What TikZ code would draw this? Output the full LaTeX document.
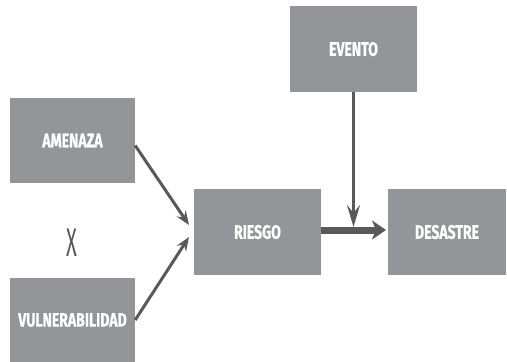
\documentclass[tikz,border=0pt]{standalone}
\usepackage{fontspec}
\setmainfont{Fira Sans}
\newfontfamily\boxfont{Fira Sans}[FakeStretch=0.72, BoldFeatures={FakeBold=0.6}]
\newfontfamily\xfont{Fira Sans}[FakeStretch=0.5]
\usetikzlibrary{arrows.meta}
\definecolor{boxgray}{HTML}{939598}
\definecolor{arrgray}{HTML}{58595B}
\tikzset{
  boxnode/.style={fill=boxgray, draw=none, inner sep=0pt, text=white,
    font=\boxfont\bfseries\fontsize{19.5}{22}\selectfont},
  thinarrow/.style={draw=arrgray, line width=3pt,
    -{Stealth[length=14pt,width=11pt,inset=5pt]}},
  vertarrow/.style={draw=arrgray, line width=3.5pt,
    -{Stealth[length=22pt,width=13pt,inset=8pt]}},
  thickarrow/.style={draw=arrgray, line width=7pt,
    -{Stealth[length=14pt,width=19pt,inset=4pt]}},
}
\begin{document}
\begin{tikzpicture}[x=1pt,y=-1pt]
\useasboundingbox (0,0) rectangle (507,362);
\node[boxnode, minimum width=125pt, minimum height=85pt] (amenaza) at (72.5,140.5) {AMENAZA};
\node[boxnode, minimum width=125pt, minimum height=84pt] (vuln) at (72.5,320) {VULNERABILIDAD};
\node[boxnode, minimum width=127pt, minimum height=86pt] (riesgo) at (257.5,232) {RIESGO};
\node[boxnode, minimum width=118pt, minimum height=86pt] (desastre) at (447,232) {DESASTRE};
\node[boxnode, minimum width=127pt, minimum height=86pt] (evento) at (353.5,49) {EVENTO};
\node[text=arrgray, font=\xfont\fontsize{40}{44}\selectfont, inner sep=0pt] (x) at (72,243) {X};
\coordinate (ra) at (189,225);
\coordinate (rb) at (189,237);
\coordinate (m) at (353.5,227);
\coordinate (hs) at (321,230);
\coordinate (he) at (386,230);
\draw[thinarrow] ([yshift=-5pt]amenaza.east) -- (ra);
\draw[thinarrow] (vuln.east) -- (rb);
\draw[thickarrow] (hs) -- (he);
\draw[vertarrow] (evento.south) -- (m);
\end{tikzpicture}
\end{document}
